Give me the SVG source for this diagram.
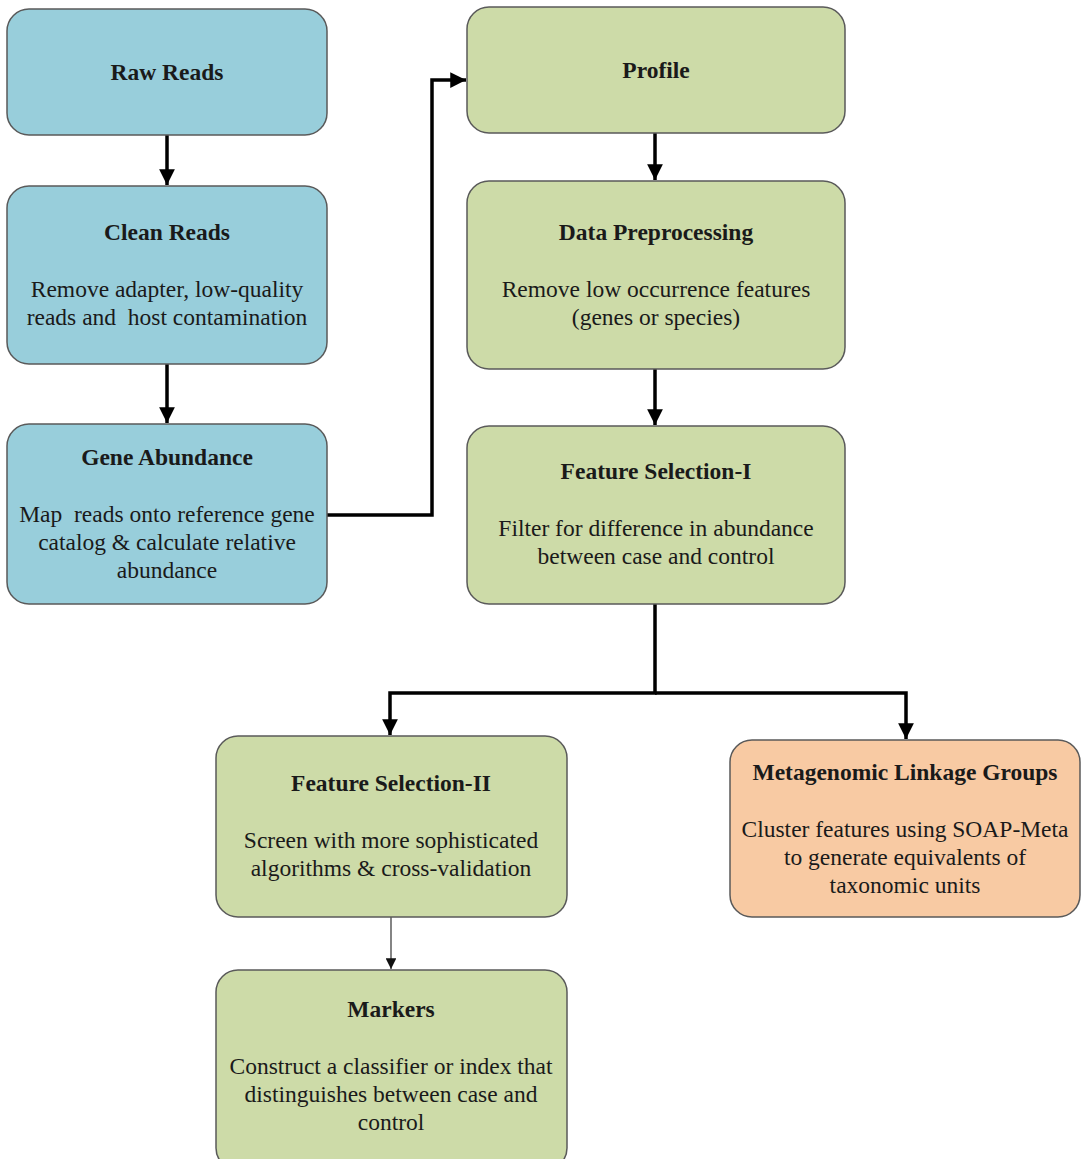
<svg xmlns="http://www.w3.org/2000/svg" width="1081" height="1159" viewBox="0 0 1081 1159">
  <style>
    .box { stroke: #5a5a5a; stroke-width: 1.5; }
    .blue { fill: #98cedb; }
    .green { fill: #cddba8; }
    .orange { fill: #f8caa3; }
    .t { font-family: 'Liberation Serif', 'DejaVu Serif', serif; font-size: 23.5px; fill: #1a1a1a; text-anchor: middle; }
    .b { font-weight: bold; }
    .link { fill: none; stroke: #000; stroke-width: 3.5; }
    .thin { fill: none; stroke: #333; stroke-width: 1.2; }
  </style>
  <defs>
    <marker id="arr" viewBox="0 0 10 10" refX="10" refY="5" markerWidth="4.5" markerHeight="4.5" markerUnits="strokeWidth" orient="auto">
      <path d="M0,0 L10,5 L0,10 z" fill="#000"/>
    </marker>
    <marker id="arrThin" viewBox="0 0 10 10" refX="10" refY="5" markerWidth="9" markerHeight="9" markerUnits="strokeWidth" orient="auto">
      <path d="M0,0 L10,5 L0,10 z" fill="#111"/>
    </marker>
  </defs>

  <g id="connectors">
    <path class="link" d="M167,135 V185" marker-end="url(#arr)"/>
    <path class="link" d="M167,364 V423" marker-end="url(#arr)"/>
    <path class="link" d="M327,515 H432 V80 H466" marker-end="url(#arr)"/>
    <path class="link" d="M655,133 V180" marker-end="url(#arr)"/>
    <path class="link" d="M655,369 V425" marker-end="url(#arr)"/>
    <path class="link" d="M655,604 V693 H390 V735" marker-end="url(#arr)"/>
    <path class="link" d="M655,693 H906 V739" marker-end="url(#arr)"/>
    <path class="thin" d="M391,917 V969" marker-end="url(#arrThin)"/>
  </g>

  <g id="raw-reads">
    <rect class="box blue" x="7" y="9" width="320" height="126" rx="22"/>
    <text class="t b" x="167" y="80">Raw Reads</text>
  </g>

  <g id="clean-reads">
    <rect class="box blue" x="7" y="186" width="320" height="178" rx="22"/>
    <text class="t b" x="167" y="240">Clean Reads</text>
    <text class="t" x="167" y="297">Remove adapter, low-quality</text>
    <text class="t" x="167" y="325" xml:space="preserve">reads and  host contamination</text>
  </g>

  <g id="gene-abundance">
    <rect class="box blue" x="7" y="424" width="320" height="180" rx="22"/>
    <text class="t b" x="167" y="465">Gene Abundance</text>
    <text class="t" x="167" y="522" xml:space="preserve">Map  reads onto reference gene</text>
    <text class="t" x="167" y="550">catalog &amp; calculate relative</text>
    <text class="t" x="167" y="578">abundance</text>
  </g>

  <g id="profile">
    <rect class="box green" x="467" y="7" width="378" height="126" rx="22"/>
    <text class="t b" x="656" y="78">Profile</text>
  </g>

  <g id="data-preprocessing">
    <rect class="box green" x="467" y="181" width="378" height="188" rx="22"/>
    <text class="t b" x="656" y="240">Data Preprocessing</text>
    <text class="t" x="656" y="297">Remove low occurrence features</text>
    <text class="t" x="656" y="325">(genes or species)</text>
  </g>

  <g id="feature-selection-1">
    <rect class="box green" x="467" y="426" width="378" height="178" rx="22"/>
    <text class="t b" x="656" y="479">Feature Selection-I</text>
    <text class="t" x="656" y="536">Filter for difference in abundance</text>
    <text class="t" x="656" y="564">between case and control</text>
  </g>

  <g id="feature-selection-2">
    <rect class="box green" x="216" y="736" width="351" height="181" rx="22"/>
    <text class="t b" x="391" y="791">Feature Selection-II</text>
    <text class="t" x="391" y="848">Screen with more sophisticated</text>
    <text class="t" x="391" y="876">algorithms &amp; cross-validation</text>
  </g>

  <g id="markers">
    <rect class="box green" x="216" y="970" width="351" height="200" rx="22"/>
    <text class="t b" x="391" y="1017">Markers</text>
    <text class="t" x="391" y="1074">Construct a classifier or index that</text>
    <text class="t" x="391" y="1102">distinguishes between case and</text>
    <text class="t" x="391" y="1130">control</text>
  </g>

  <g id="metagenomic-linkage-groups">
    <rect class="box orange" x="730" y="740" width="350" height="177" rx="22"/>
    <text class="t b" x="905" y="780">Metagenomic Linkage Groups</text>
    <text class="t" x="905" y="837">Cluster features using SOAP-Meta</text>
    <text class="t" x="905" y="865">to generate equivalents of</text>
    <text class="t" x="905" y="893">taxonomic units</text>
  </g>
</svg>
